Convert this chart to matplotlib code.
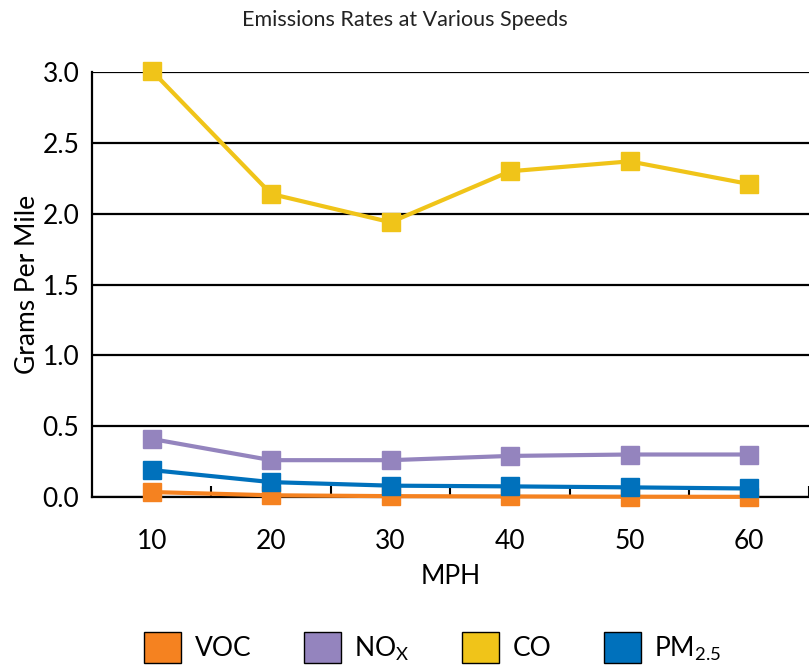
import numpy as np
import matplotlib.pyplot as plt
from matplotlib.patches import Patch

speeds = ['10', '20', '30', '40', '50', '60']
voc = [0.035, 0.012, 0.006, 0.004, 0.002, 0.001]
nox = [0.41, 0.26, 0.26, 0.29, 0.30, 0.30]
co = [3.01, 2.14, 1.94, 2.30, 2.37, 2.21]
pm25 = [0.19, 0.105, 0.08, 0.075, 0.068, 0.06]

series = [
    ('VOC', voc, '#F58220'),
    (r'NO$_\mathregular{X}$', nox, '#9484BE'),
    ('CO', co, '#F0C419'),
    (r'PM$_\mathregular{2.5}$', pm25, '#0071BC'),
]

plt.rcParams['font.family'] = ['Lato', 'DejaVu Sans']

fig = plt.figure(figsize=(8.09, 6.68), dpi=100)
ax = fig.add_axes([0.1137, 0.256, 0.886, 0.636])

x = np.arange(len(speeds))
# draw order: CO, NOx, VOC, then PM on top
for name, vals, color in [series[2], series[1], series[0], series[3]]:
    ax.plot(x, vals, color=color, lw=3, marker='s', ms=13,
            clip_on=False, zorder=3)

ax.set_xlim(-0.5, len(speeds) - 0.5)
ax.set_ylim(0, 3.0)
ax.set_yticks(np.arange(0, 3.01, 0.5))
ax.set_yticklabels([f'{v:.1f}' for v in np.arange(0, 3.01, 0.5)])
ax.yaxis.grid(True, color='black', lw=1.6)
ax.set_axisbelow(True)
ax.set_xticks(x)
ax.set_xticklabels(speeds)
ax.set_xticks(np.arange(0.5, len(speeds), 1), minor=True)
ax.tick_params(axis='x', which='major', length=0, pad=23, labelsize=19)
ax.tick_params(axis='x', which='minor', direction='in', length=8, width=1.5)
ax.tick_params(axis='y', length=0, pad=9, labelsize=19)

for s in ['top', 'right']:
    ax.spines[s].set_visible(False)
for s in ['left', 'bottom']:
    ax.spines[s].set_linewidth(1.6)

ax.set_xlabel('MPH', fontsize=19, labelpad=7)
ax.set_ylabel('Grams Per Mile', fontsize=19, labelpad=2)

fig.suptitle('Emissions Rates at Various Speeds', fontsize=15.5, y=0.985,
             color='#222222')

handles = [Patch(facecolor=c, edgecolor='black', lw=1) for _, _, c in series]
labels = [n for n, _, _ in series]
fig.legend(handles, labels, loc='lower center', bbox_to_anchor=(0.535, -0.028),
           ncol=4, frameon=False, fontsize=19, handlelength=1.4,
           handleheight=1.4, columnspacing=2.0, handletextpad=0.5)

fig.savefig('out.png', dpi=100)
